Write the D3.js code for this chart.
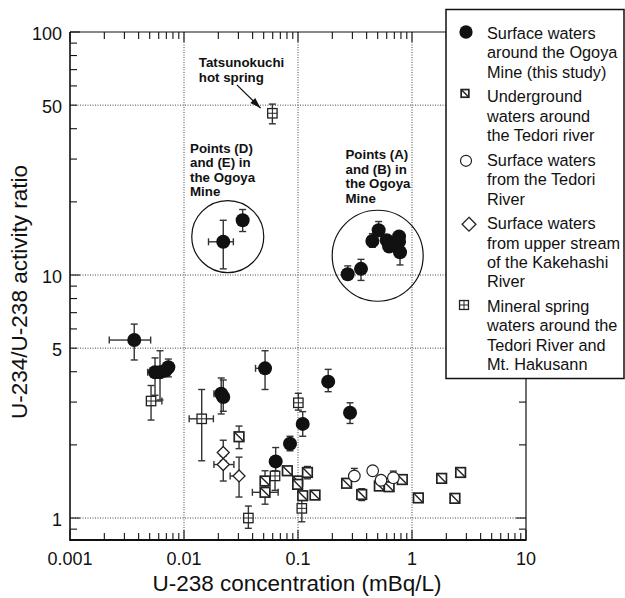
<!DOCTYPE html>
<html><head><meta charset="utf-8">
<script src="https://cdn.jsdelivr.net/npm/d3@7"></script>
<style>
html,body{margin:0;padding:0;background:#fff;}
svg{display:block;font-family:"Liberation Sans",Arial,Helvetica,sans-serif;}
</style></head>
<body>
<svg id="chart" width="625" height="598"></svg>
<script>
// ---------------- DATA ----------------
const xDomain = [0.001, 10];
const yDomain = [0.812, 100];
const xTickLabels = [0.001, 0.01, 0.1, 1, 10];
const yTickLabels = [1, 5, 10, 50, 100];
const xGridValues = [0.01, 0.1, 1];
const yGridValues = [1, 5, 10, 50];

// Surface waters around the Ogoya Mine (this study)
const ogoya = [
  {x:0.00366, y:5.40, yLo:4.47, yHi:6.28, xLo:0.00221, xHi:0.0051},
  {x:0.00557, y:3.98, yLo:3.20, yHi:4.56, xLo:0.0048},
  {x:0.00616, y:3.98, yLo:3.06, yHi:4.88},
  {x:0.0069,  y:4.05},
  {x:0.00729, y:4.17, yLo:3.81, yHi:4.51},
  {x:0.0212,  y:3.25, yLo:2.68, yHi:3.77, xLo:0.0183},
  {x:0.0221,  y:3.15, yLo:2.75, yHi:3.70},
  {x:0.0514,  y:4.13, yLo:3.38, yHi:4.88, xLo:0.0424},
  {x:0.184,   y:3.64, yLo:3.31, yHi:4.09},
  {x:0.286,   y:2.71, yLo:2.45, yHi:2.98},
  {x:0.110,   y:2.44, yLo:2.17, yHi:2.74},
  {x:0.0851,  y:2.02, yLo:1.89, yHi:2.17},
  {x:0.0637,  y:1.71, yLo:1.53, yHi:1.95},
  {x:0.0221,  y:13.7, yLo:10.6, yHi:16.8, xLo:0.0164, xHi:0.0271},
  {x:0.0327,  y:16.8, yLo:15.1, yHi:18.6},
  {x:0.273,   y:10.07, yLo:9.6, yHi:10.9, xLo:0.258},
  {x:0.357,   y:10.6, yLo:9.5, yHi:11.6},
  {x:0.449,   y:13.8, yLo:13.0, yHi:14.8},
  {x:0.51,    y:15.3, yLo:14.4, yHi:16.6},
  {x:0.60,    y:13.9},
  {x:0.63,    y:13.1},
  {x:0.66,    y:13.5},
  {x:0.77,    y:14.4},
  {x:0.77,    y:13.7},
  {x:0.785,   y:12.4, yLo:11.0, yHi:13.3}
];
// Underground waters around the Tedori river
const underground = [
  {x:0.0304, y:2.16, yLo:1.93, yHi:2.39},
  {x:0.0514, y:1.42, yLo:1.36, yHi:1.565},
  {x:0.0514, y:1.276, yLo:1.14, yHi:1.38, xLo:0.0398, xHi:0.067},
  {x:0.0806, y:1.565},
  {x:0.0993, y:1.42},
  {x:0.0993, y:1.376},
  {x:0.121,  y:1.54, yLo:1.45, yHi:1.63},
  {x:0.110,  y:1.235},
  {x:0.141,  y:1.243},
  {x:0.267,  y:1.39},
  {x:0.362,  y:1.25, yLo:1.18, yHi:1.32},
  {x:0.517,  y:1.354},
  {x:0.63,   y:1.345},
  {x:0.822,  y:1.44},
  {x:1.136,  y:1.21},
  {x:1.82,   y:1.456},
  {x:2.67,   y:1.54},
  {x:2.38,   y:1.205}
];
// Surface waters from the Tedori River
const tedori = [
  {x:0.312, y:1.49, yHi:1.60},
  {x:0.452, y:1.565},
  {x:0.535, y:1.43},
  {x:0.686, y:1.465, yHi:1.56}
];
// Surface waters from upper stream of the Kakehashi River
const kakehashi = [
  {x:0.0221, y:1.86, yLo:1.72, yHi:2.09},
  {x:0.0221, y:1.66, yLo:1.42, yHi:1.80, xLo:0.0183, xHi:0.0274},
  {x:0.0304, y:1.49, yLo:1.22, yHi:1.78, xLo:0.0254}
];
// Mineral spring waters around the Tedori River and Mt. Hakusann
const mineral = [
  {x:0.0596, y:46.3, yLo:41.9, yHi:50.5},
  {x:0.00514, y:3.03, yLo:2.53, yHi:3.51, xHi:0.0064},
  {x:0.0143, y:2.56, yLo:1.72, yHi:3.38, xLo:0.0111, xHi:0.0181},
  {x:0.1007, y:2.98, yLo:2.78, yHi:3.26},
  {x:0.0629, y:1.49, yLo:1.30, yHi:1.565},
  {x:0.108,  y:1.096, yLo:0.965, yHi:1.22},
  {x:0.0367, y:1.0, yLo:0.907, yHi:1.12}
];

const legendLabels = [
  ["Surface waters","around the Ogoya","Mine (this study)"],
  ["Underground","waters around","the Tedori river"],
  ["Surface waters","from the Tedori","River"],
  ["Surface waters","from upper stream","of the Kakehashi","River"],
  ["Mineral spring","waters around the","Tedori River and","Mt. Hakusann"]
];
const legendSymbols = ["filled","hatched","open","diamond","mineral"];

// Annotations (data coordinates)
const annoCircles = [ {x:0.0242, y:14.4}, {x:0.50, y:12.0} ];
const annoTexts = [
  {x:0.0135, y:72,   lines:["Tatsunokuchi","hot spring"]},
  {x:0.0113, y:31.8, lines:["Points (D)","and (E) in","the Ogoya","Mine"]},
  {x:0.261,  y:30.0, lines:["Points (A)","and (B) in","the Ogoya","Mine"]}
];
const annoArrow = {x1:0.0291, y1:60.6, x2:0.0470, y2:48.6};

// ---------------- LAYOUT ----------------
const L = 70, R = 526, T = 32, B = 540;
const svg = d3.select("#chart");
const x = d3.scaleLog().domain(xDomain).range([L, R]);
const y = d3.scaleLog().domain(yDomain).range([B, T]);

function logTicks(lo, hi){
  const out=[];
  for(let e=Math.floor(Math.log10(lo)); e<=Math.ceil(Math.log10(hi)); e++){
    for(let m=1;m<=9;m++){ const v=m*Math.pow(10,e); if(v>=lo*0.9999 && v<=hi*1.0001) out.push({v, major:m===1}); }
  }
  return out;
}
const xt = logTicks(xDomain[0], xDomain[1]);
const yt = logTicks(yDomain[0], yDomain[1]);

// gridlines
const grid = svg.append("g").attr("stroke","#444").attr("stroke-width",1).attr("stroke-dasharray","1,1.5");
grid.selectAll("line.gx").data(xGridValues).join("line")
  .attr("x1",d=>x(d)).attr("x2",d=>x(d)).attr("y1",T).attr("y2",B);
grid.selectAll("line.gy").data(yGridValues).join("line")
  .attr("x1",L).attr("x2",R).attr("y1",d=>y(d)).attr("y2",d=>y(d));

// annotation circles
const circR = [36, 45.5];
svg.append("g").selectAll("circle").data(annoCircles).join("circle")
  .attr("cx",d=>x(d.x)).attr("cy",d=>y(d.y)).attr("r",(d,i)=>circR[i])
  .attr("fill","none").attr("stroke","#111").attr("stroke-width",1.2);

// error bars
const eb = svg.append("g").attr("stroke","#333").attr("stroke-width",1.4).attr("fill","none");
function drawErr(data){
  data.forEach(d=>{
    const cx=x(d.x), cy=y(d.y), c=3.5;
    if(d.yHi!==undefined){ eb.append("line").attr("x1",cx).attr("x2",cx).attr("y1",cy).attr("y2",y(d.yHi));
      eb.append("line").attr("x1",cx-c).attr("x2",cx+c).attr("y1",y(d.yHi)).attr("y2",y(d.yHi)); }
    if(d.yLo!==undefined){ eb.append("line").attr("x1",cx).attr("x2",cx).attr("y1",cy).attr("y2",y(d.yLo));
      eb.append("line").attr("x1",cx-c).attr("x2",cx+c).attr("y1",y(d.yLo)).attr("y2",y(d.yLo)); }
    if(d.xLo!==undefined){ eb.append("line").attr("y1",cy).attr("y2",cy).attr("x1",cx).attr("x2",x(d.xLo));
      eb.append("line").attr("y1",cy-c).attr("y2",cy+c).attr("x1",x(d.xLo)).attr("x2",x(d.xLo)); }
    if(d.xHi!==undefined){ eb.append("line").attr("y1",cy).attr("y2",cy).attr("x1",cx).attr("x2",x(d.xHi));
      eb.append("line").attr("y1",cy-c).attr("y2",cy+c).attr("x1",x(d.xHi)).attr("x2",x(d.xHi)); }
  });
}
[ogoya, underground, tedori, kakehashi, mineral].forEach(drawErr);

function marker(g, type, cx, cy, scale){
  const s = scale||1;
  if(type==="filled"){
    g.append("circle").attr("cx",cx).attr("cy",cy).attr("r",7*s).attr("fill","#111");
  } else if(type==="open"){
    g.append("circle").attr("cx",cx).attr("cy",cy).attr("r",5.8*s).attr("fill","#fff").attr("stroke","#222").attr("stroke-width",1.2);
  } else if(type==="diamond"){
    const h=6*s;
    g.append("path").attr("d",`M${cx},${cy-h}L${cx+h},${cy}L${cx},${cy+h}L${cx-h},${cy}Z`)
      .attr("fill","#fff").attr("stroke","#222").attr("stroke-width",1.3);
  } else if(type==="hatched"){
    const h=4.8*s;
    g.append("rect").attr("x",cx-h).attr("y",cy-h).attr("width",2*h).attr("height",2*h)
      .attr("fill","#fff").attr("stroke","#222").attr("stroke-width",1.7);
    g.append("line").attr("x1",cx-h).attr("y1",cy-h).attr("x2",cx+h).attr("y2",cy+h).attr("stroke","#222").attr("stroke-width",1.4);
  } else if(type==="mineral"){
    const h=4.7*s;
    g.append("rect").attr("x",cx-h).attr("y",cy-h).attr("width",2*h).attr("height",2*h)
      .attr("fill","#fff").attr("stroke","#222").attr("stroke-width",1.3);
    g.append("line").attr("x1",cx-h).attr("y1",cy).attr("x2",cx+h).attr("y2",cy).attr("stroke","#222").attr("stroke-width",1);
    g.append("line").attr("x1",cx).attr("y1",cy-h).attr("x2",cx).attr("y2",cy+h).attr("stroke","#222").attr("stroke-width",1);
  }
}
const mk = svg.append("g");
[[underground,"hatched"],[mineral,"mineral"],[kakehashi,"diamond"],[tedori,"open"],[ogoya,"filled"]]
  .forEach(([data,type])=>data.forEach(d=>marker(mk,type,x(d.x),y(d.y))));

// axes frame
const ax = svg.append("g").attr("stroke","#111");
ax.append("line").attr("x1",L).attr("x2",R).attr("y1",B).attr("y2",B).attr("stroke-width",2.2);
ax.append("line").attr("x1",L).attr("x2",L).attr("y1",T).attr("y2",B+1).attr("stroke-width",1.6);
ax.append("line").attr("x1",L).attr("x2",R).attr("y1",T).attr("y2",T).attr("stroke-width",1.2);
ax.append("line").attr("x1",R).attr("x2",R).attr("y1",T).attr("y2",B+1).attr("stroke-width",1.2);
ax.selectAll("line.xb").data(xt).join("line").attr("stroke-width",1.1)
  .attr("x1",d=>x(d.v)).attr("x2",d=>x(d.v)).attr("y1",B).attr("y2",d=>B-(d.major?10:7));
ax.selectAll("line.xt").data(xt).join("line").attr("stroke-width",1.1)
  .attr("x1",d=>x(d.v)).attr("x2",d=>x(d.v)).attr("y1",T).attr("y2",d=>T+(d.major?10:7));
ax.selectAll("line.yl").data(yt).join("line").attr("stroke-width",1.1)
  .attr("y1",d=>y(d.v)).attr("y2",d=>y(d.v)).attr("x1",L).attr("x2",d=>L+(d.major?10:7));
ax.selectAll("line.yr").data(yt).join("line").attr("stroke-width",1.1)
  .attr("y1",d=>y(d.v)).attr("y2",d=>y(d.v)).attr("x1",R).attr("x2",d=>R-(d.major?10:7));

// tick labels
const fmt = d3.format("~g");
svg.append("g").selectAll("text").data(xTickLabels).join("text")
  .attr("x",d=>x(d)).attr("y",565).attr("text-anchor","middle")
  .attr("font-size",18).attr("fill","#111").text(d=>d===0.001?"0.001":fmt(d));
svg.append("g").selectAll("text").data(yTickLabels).join("text")
  .attr("x",62).attr("y",d=>y(d)+8).attr("text-anchor","end")
  .attr("font-size",18).attr("fill","#111").text(d=>fmt(d));

// axis titles
svg.append("text").attr("x",297).attr("y",591).attr("text-anchor","middle")
  .attr("font-size",22.5).attr("fill","#111").text("U-238 concentration (mBq/L)");
svg.append("text").attr("transform","translate(27,292) rotate(-90)").attr("text-anchor","middle")
  .attr("font-size",22.5).attr("fill","#111").text("U-234/U-238 activity ratio");

// annotation texts
const at = svg.append("g").attr("font-size",13.3).attr("font-weight","bold").attr("fill","#111");
annoTexts.forEach((a,i)=>{
  const lh = i===0?15:14.5;
  a.lines.forEach((ln,j)=>at.append("text").attr("x",x(a.x)).attr("y",y(a.y)+j*lh).text(ln));
});
const ax1=x(annoArrow.x1), ay1=y(annoArrow.y1), ax2=x(annoArrow.x2), ay2=y(annoArrow.y2);
svg.append("line").attr("x1",ax1).attr("y1",ay1).attr("x2",ax2).attr("y2",ay2).attr("stroke","#111").attr("stroke-width",1.3);
{
  const ang=Math.atan2(ay2-ay1, ax2-ax1), len=11, w=3.5;
  const bx=ax2-len*Math.cos(ang), by=ay2-len*Math.sin(ang);
  const px=-Math.sin(ang)*w, py=Math.cos(ang)*w;
  svg.append("path").attr("d",`M${ax2},${ay2}L${bx+px},${by+py}L${bx-px},${by-py}Z`).attr("fill","#111");
}

// legend
const lg = svg.append("g");
lg.append("rect").attr("x",446).attr("y",9.5).attr("width",178).attr("height",369)
  .attr("fill","#fff").attr("stroke","#111").attr("stroke-width",1.5);
const lineH = 19.4, groupGap = 24.6;
let baseY = 39;
const symOff = [[466,-7],[465,-9],[466,-5],[469,-5],[464,-7]];
legendLabels.forEach((lines,i)=>{
  const sy = baseY + symOff[i][1];
  const sc = i===1?0.8:(i===4?0.95:(i===3?1.15:0.95));
  marker(lg, legendSymbols[i], symOff[i][0], sy, sc);
  lines.forEach((ln,j)=>lg.append("text").attr("x",487).attr("y",baseY+j*lineH)
    .attr("font-size",16.3).attr("fill","#111").text(ln));
  baseY += (lines.length-1)*lineH + groupGap;
});
</script>
</body></html>
